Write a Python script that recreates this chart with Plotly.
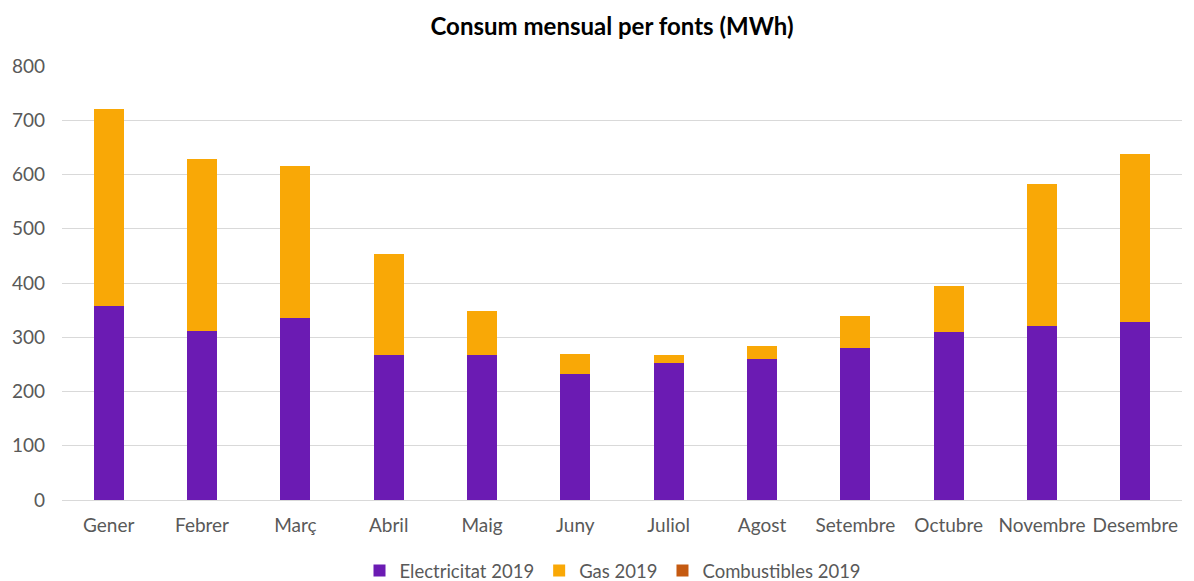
import plotly.graph_objects as go

months = ["Gener", "Febrer", "Març", "Abril", "Maig", "Juny", "Juliol", "Agost",
          "Setembre", "Octubre", "Novembre", "Desembre"]
electricitat = [357, 312, 336, 268, 267, 233, 253, 259, 281, 310, 321, 329]
gas = [363, 316, 280, 185, 81, 37, 14, 24, 58, 85, 261, 309]
combustibles = [0, 0, 0, 0, 0, 0, 0, 0, 0, 0, 0, 0]
y_ticks = [0, 100, 200, 300, 400, 500, 600, 700, 800]

FONT = "Lato"
GREY = "#595959"

fig = go.Figure()
fig.add_trace(go.Bar(name="Electricitat 2019", x=months, y=electricitat,
                     marker=dict(color="#6B1BB3", line=dict(width=0))))
fig.add_trace(go.Bar(name="Gas 2019", x=months, y=gas,
                     marker=dict(color="#F9A806", line=dict(width=0))))
fig.add_trace(go.Bar(name="Combustibles 2019", x=months, y=combustibles,
                     marker=dict(color="#C55A11", line=dict(width=0))))

fig.update_layout(
    barmode="stack",
    bargap=0.68,
    width=1194, height=581,
    margin=dict(l=62, r=12, t=66, b=81, autoexpand=False),
    paper_bgcolor="white", plot_bgcolor="white",
    font=dict(family=FONT, color=GREY, size=19),
    title=dict(text="<b>Consum mensual per fonts (MWh)</b>", xref="container",
               x=612 / 1194, xanchor="center",
               y=1 - 27 / 581, yanchor="middle", font=dict(family=FONT, size=24, color="black")),
    legend=dict(orientation="h", xref="container", x=613 / 1194, xanchor="center",
                yref="container", y=10 / 581, yanchor="middle",
                font=dict(size=18.5, color=GREY), traceorder="normal",
                itemwidth=30),
    showlegend=True,
)
fig.update_yaxes(range=[0, 800], tickvals=y_ticks, showgrid=True, gridcolor="#D9D9D9",
                 gridwidth=1, zeroline=True, zerolinecolor="#D9D9D9", zerolinewidth=1,
                 showline=False, ticks="", tickfont=dict(size=19, color=GREY), ticklabelstandoff=16)
fig.update_xaxes(showline=False, ticks="", tickfont=dict(size=19, color=GREY), ticklabelstandoff=12)

fig.write_html("out.html", config={"displayModeBar": False},
               post_script="document.body.style.margin='0';document.body.style.overflow='hidden';")
